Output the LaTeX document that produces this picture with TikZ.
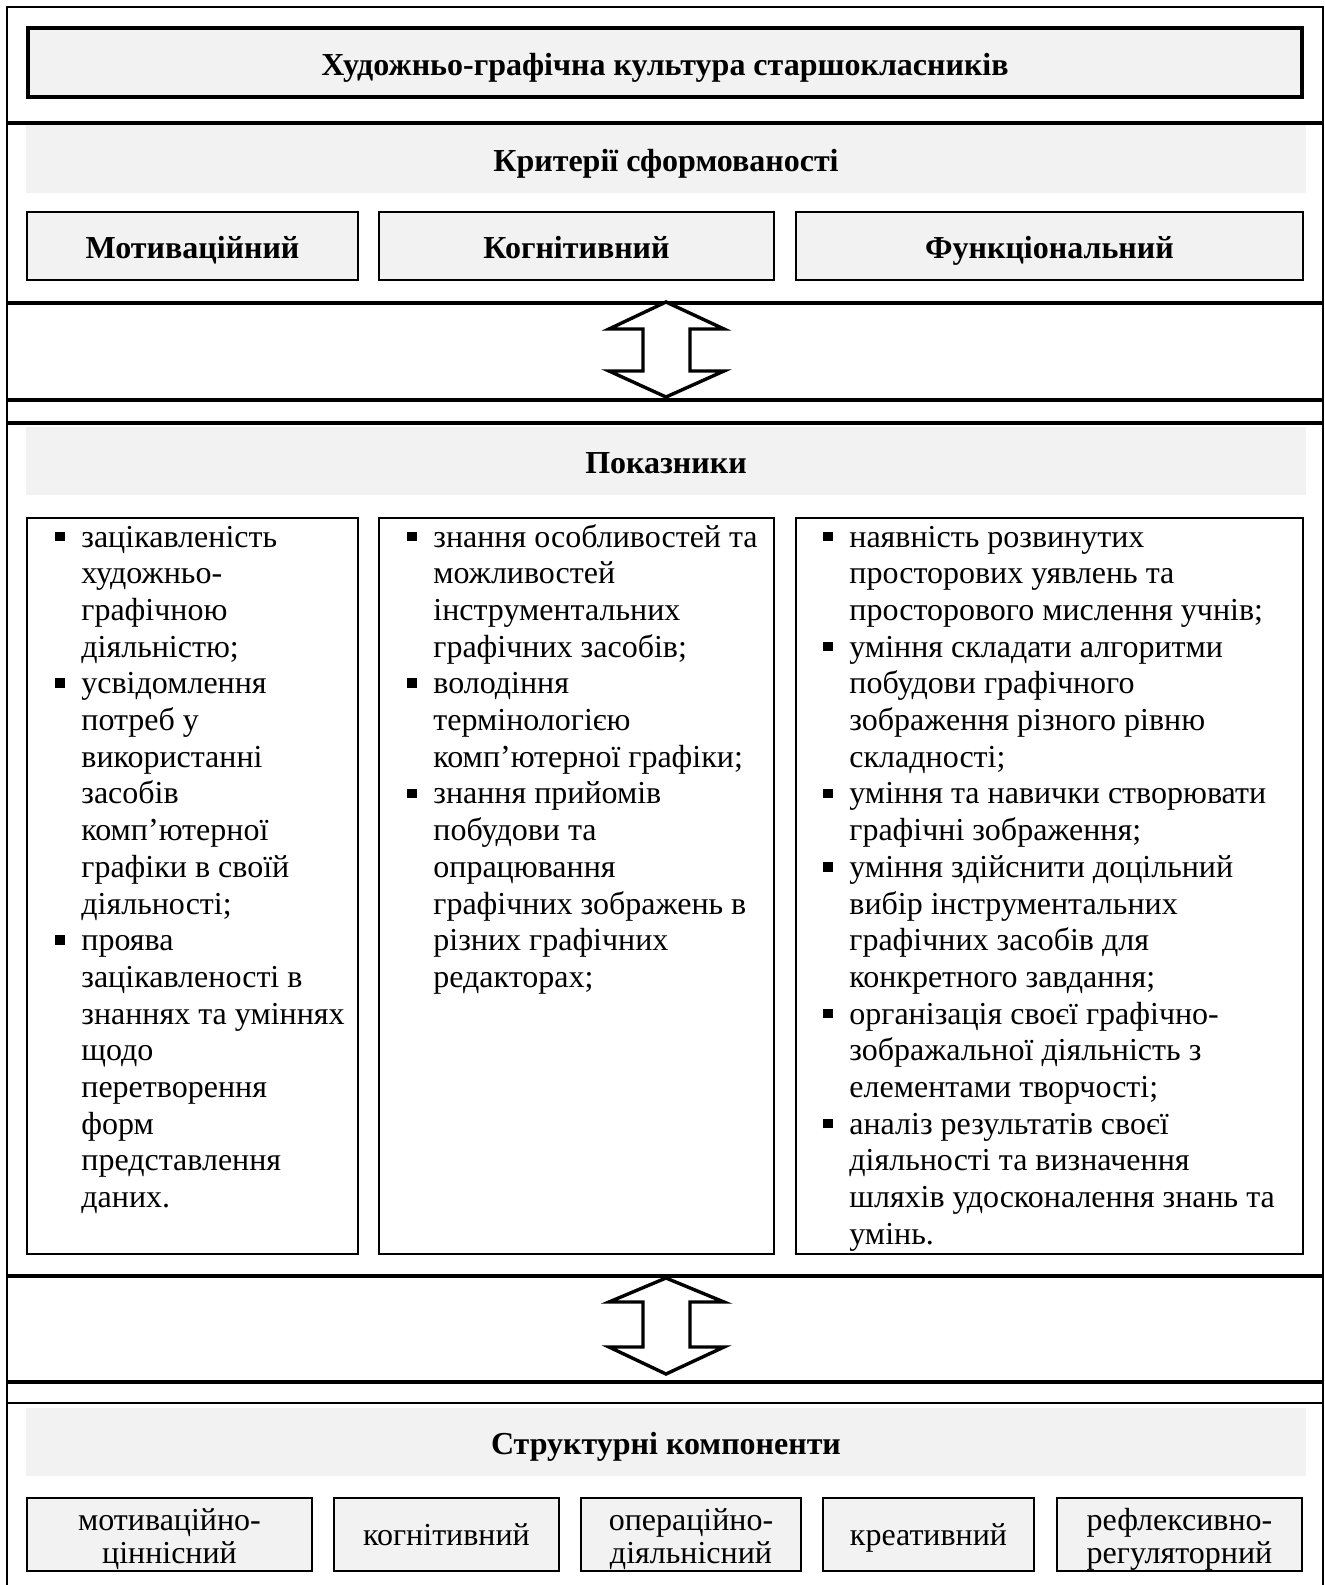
\documentclass[tikz,border=0pt]{standalone}
\usepackage{fontspec}
\setmainfont{Liberation Serif}
\definecolor{bandgray}{HTML}{F2F2F2}
\newcommand{\bul}{\leavevmode\llap{\raisebox{2.9pt}{\rule{4.8pt}{4.8pt}}\hspace{8.4pt}}}
\newcommand{\coltext}[1]{\parbox[t]{300pt}{\raggedright\fontsize{16pt}{18.35pt}\selectfont #1}}
\newcommand{\twol}[2]{\begin{tabular}[t]{@{}c@{}}#1\\#2\end{tabular}}
\begin{document}
\begin{tikzpicture}[x=0.5pt,y=-0.5pt,
  sepline/.style={line width=1.6pt},
  thinsep/.style={line width=0.9pt},
  frameline/.style={line width=1pt},
  boldtxt/.style={font=\fontsize{16pt}{18pt}\selectfont\bfseries, text height=14.5pt, text depth=2pt},
  titlebox/.style={draw, line width=2pt, fill=bandgray, inner sep=0pt, minimum width=637pt, minimum height=34.5pt, boldtxt},
  band/.style={fill=bandgray, draw=none, inner sep=0pt, minimum width=640pt, minimum height=34pt, boldtxt},
  critbox/.style={draw, line width=1pt, fill=bandgray, inner sep=0pt, minimum height=34pt, boldtxt},
  colbox/.style={draw, line width=1pt, fill=white, inner sep=0pt, minimum height=368pt},
  compbox/.style={draw, line width=1pt, fill=bandgray, inner sep=0pt, minimum height=36.5pt, font=\fontsize{16pt}{16.7pt}\selectfont, text height=10.9pt, text depth=0pt},
  comptwo/.style={compbox, text depth=15.4pt},
  coltxt/.style={anchor=base west, inner sep=0pt},
  dblarrow/.style={draw, line width=1.7pt, fill=white, line join=miter}
]
\useasboundingbox (0,0) rectangle (1325,1585);

% outer frame
\draw[frameline] (6.5,1585) -- (6.5,6.5) -- (1322.5,6.5) -- (1322.5,1585);

% title
\node[titlebox] (title) at (665,62.5) {Художньо-графічна культура старшокласників};

\draw[sepline] (6,123) -- (1323,123);

% criteria
\node[band] (crit) at (666,159) {Критерії сформованості};
\node[critbox, minimum width=165.5pt] (c1) at (192.5,246) {Мотиваційний};
\node[critbox, minimum width=197.5pt] (c2) at (576.5,246) {Когнітивний};
\node[critbox, minimum width=253.5pt] (c3) at (1049.5,246) {Функціональний};

\draw[sepline] (6,303) -- (1323,303);

% arrow 1
\draw[dblarrow] (666,302) -- (724,329) -- (690,329) -- (690,371) -- (724,371) -- (666,397)
  -- (609,371) -- (643,371) -- (643,329) -- (609,329) -- cycle;

\draw[sepline] (6,400) -- (1323,400);
\draw[sepline] (6,423) -- (1323,423);

% indicators
\node[band] (ind) at (666,460.5) {Показники};
\node[colbox, minimum width=165.5pt] (k1) at (192.5,886) {};
\node[colbox, minimum width=197.5pt] (k2) at (576.5,886) {};
\node[colbox, minimum width=253.5pt] (k3) at (1049.5,886) {};

\node[coltxt] (t1) at (81,547) {\coltext{%
\bul зацікавленість\\
художньо-\\
графічною\\
діяльністю;\\
\bul усвідомлення\\
потреб у\\
використанні\\
засобів\\
комп’ютерної\\
графіки в своїй\\
діяльності;\\
\bul проява\\
зацікавленості в\\
знаннях та уміннях\\
щодо\\
перетворення\\
форм\\
представлення\\
даних.}};

\node[coltxt] (t2) at (433,547) {\coltext{%
\bul знання особливостей та\\
можливостей\\
інструментальних\\
графічних засобів;\\
\bul володіння\\
термінологією\\
комп’ютерної графіки;\\
\bul знання прийомів\\
побудови та\\
опрацювання\\
графічних зображень в\\
різних графічних\\
редакторах;}};

\node[coltxt] (t3) at (849,547) {\coltext{%
\bul наявність розвинутих\\
просторових уявлень та\\
просторового мислення учнів;\\
\bul уміння складати алгоритми\\
побудови графічного\\
зображення різного рівню\\
складності;\\
\bul уміння та навички створювати\\
графічні зображення;\\
\bul уміння здійснити доцільний\\
вибір інструментальних\\
графічних засобів для\\
конкретного завдання;\\
\bul організація своєї графічно-\\
зображальної діяльність з\\
елементами творчості;\\
\bul аналіз результатів своєї\\
діяльності та визначення\\
шляхів удосконалення знань та\\
умінь.}};

\draw[sepline] (6,1276) -- (1323,1276);

% arrow 2
\draw[dblarrow] (666,1278) -- (724,1302) -- (690,1302) -- (690,1347) -- (724,1347) -- (666,1374)
  -- (609,1347) -- (643,1347) -- (643,1302) -- (609,1302) -- cycle;

\draw[sepline] (6,1382) -- (1323,1382);
\draw[thinsep] (6,1403) -- (1323,1403);

% structural components
\node[band] (struct) at (666,1441.5) {Структурні компоненти};
\node[comptwo, minimum width=142.5pt] (s1) at (169.5,1534.5) {\twol{мотиваційно-}{ціннісний}};
\node[compbox, minimum width=112.5pt] (s2) at (446.5,1534.5) {когнітивний};
\node[comptwo, minimum width=110pt] (s3) at (691,1534.5) {\twol{операційно-}{діяльнісний}};
\node[compbox, minimum width=105.5pt] (s4) at (928.5,1534.5) {креативний};
\node[comptwo, minimum width=122.5pt] (s5) at (1179.5,1534.5) {\twol{рефлексивно-}{регуляторний}};
\end{tikzpicture}
\end{document}
